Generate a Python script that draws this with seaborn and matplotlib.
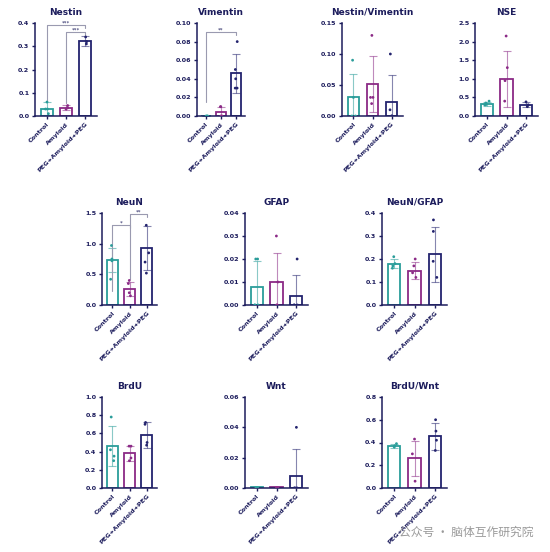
import numpy as np
import pandas as pd
import seaborn as sns
from matplotlib import pyplot as plt

groups = ["Control", "Amyloid", "PEG+Amyloid+PEG"]
colors = ["#2a9d9a", "#8b2a86", "#23236e"]
NAVY = "#1c1c5c"

# per-panel: means, sds, individual points
panels = {
    "Nestin": ([0.032, 0.036, 0.322], [0.028, 0.01, 0.02],
               [[0.06, 0.03, 0.01, 0.03], [0.045, 0.035, 0.03], [0.34, 0.32, 0.31]]),
    "Vimentin": ([0.0005, 0.004, 0.046], [0.0, 0.006, 0.021],
                 [[0.0, 0.0, 0.0], [0.01, 0.01, 0.0, 0.0], [0.08, 0.05, 0.04, 0.03, 0.03]]),
    "Nestin/Vimentin": ([0.03, 0.052, 0.022], [0.037, 0.045, 0.044],
                        [[0.09, 0.03, 0.0, 0.0], [0.13, 0.03, 0.03, 0.02], [0.10, 0.01, 0.0, 0.0]]),
    "NSE": ([0.32, 1.0, 0.3], [0.06, 0.76, 0.07],
            [[0.4, 0.3, 0.3, 0.35], [2.15, 1.3, 0.95, 0.4], [0.38, 0.3, 0.25]]),
    "NeuN": ([0.73, 0.26, 0.93], [0.2, 0.12, 0.36],
             [[0.97, 0.75, 0.72, 0.42], [0.4, 0.35, 0.2, 0.15], [1.3, 0.85, 0.7, 0.52]]),
    "GFAP": ([0.008, 0.01, 0.004], [0.011, 0.0125, 0.009],
             [[0.02, 0.02, 0.0, 0.0, 0.0], [0.03, 0.01, 0.0, 0.0], [0.02, 0.0, 0.0, 0.0]]),
    "NeuN/GFAP": ([0.18, 0.15, 0.22], [0.02, 0.035, 0.12],
                  [[0.21, 0.18, 0.17, 0.16], [0.2, 0.17, 0.14, 0.12], [0.37, 0.32, 0.19, 0.12]]),
    "BrdU": ([0.46, 0.38, 0.58], [0.22, 0.08, 0.14],
             [[0.78, 0.42, 0.35, 0.3], [0.46, 0.46, 0.33, 0.3], [0.72, 0.7, 0.5, 0.47]]),
    "Wnt": ([0.0005, 0.0005, 0.008], [0.0, 0.0, 0.018],
            [[0.0, 0.0, 0.0], [0.0, 0.0, 0.0], [0.04, 0.0, 0.0, 0.0, 0.0]]),
    "BrdU/Wnt": ([0.37, 0.26, 0.455], [0.02, 0.155, 0.12],
                 [[0.39, 0.37, 0.36], [0.43, 0.3, 0.06], [0.6, 0.5, 0.42, 0.33]]),
}
ylims = {"Nestin": (0.4, 0.1, "%.1f"), "Vimentin": (0.10, 0.02, "%.2f"),
         "Nestin/Vimentin": (0.15, 0.05, "%.2f"), "NSE": (2.5, 0.5, "%.1f"),
         "NeuN": (1.5, 0.5, "%.1f"), "GFAP": (0.04, 0.01, "%.2f"),
         "NeuN/GFAP": (0.4, 0.1, "%.1f"), "BrdU": (1.0, 0.2, "%.1f"),
         "Wnt": (0.06, 0.02, "%.2f"), "BrdU/Wnt": (0.8, 0.2, "%.1f")}
# significance brackets: (i, j, height, label)
brackets = {"Nestin": [(0, 2, 0.39, "***"), (1, 2, 0.36, "***")],
            "Vimentin": [(0, 2, 0.09, "**")],
            "NeuN": [(0, 1, 1.3, "*"), (1, 2, 1.48, "**")]}

# axes boxes in pixels: left, right, top, bottom
boxes = {"Nestin": (35, 97, 23, 116), "Vimentin": (197, 245, 23, 116),
         "Nestin/Vimentin": (342, 403, 23, 116), "NSE": (475, 538, 23, 116),
         "NeuN": (102, 157, 213, 305), "GFAP": (245, 308, 213, 305),
         "NeuN/GFAP": (382, 447, 213, 305), "BrdU": (102, 157, 397, 488),
         "Wnt": (245, 308, 397, 488), "BrdU/Wnt": (382, 447, 397, 488)}

sns.set_style("ticks")
plt.rcParams['font.family'] = ['DejaVu Sans']
W, H = 550, 552
fig = plt.figure(figsize=(W / 100, H / 100), dpi=100)

for name, (means, sds, pts) in panels.items():
    l, r, t, b = boxes[name]
    ax = fig.add_axes([l / W, 1 - b / H, (r - l) / W, (b - t) / H])
    df = pd.DataFrame({"group": groups, "value": means})
    sns.barplot(data=df, x="group", y="value", hue="group", palette=colors,
                fill=False, linewidth=1.3, width=0.62, errorbar=None,
                legend=False, ax=ax)
    for bar, c in zip(ax.patches, colors):
        bar.set_edgecolor(c)
    for i, (m, s, c) in enumerate(zip(means, sds, colors)):
        ax.errorbar(i, m, yerr=s, color=c, alpha=0.55, capsize=3,
                    elinewidth=0.8, capthick=0.8)
    pdf = pd.DataFrame({"group": [g for g, p in zip(groups, pts) for _ in p],
                        "value": [v for p in pts for v in p]})
    sns.stripplot(data=pdf, x="group", y="value", hue="group", palette=colors,
                  size=2, jitter=0.12, legend=False, ax=ax)
    top, step, fmt = ylims[name]
    ax.set_ylim(0, top)
    ax.set_yticks(np.arange(0, top + step / 2, step))
    ax.yaxis.set_major_formatter(plt.FormatStrFormatter(fmt))
    ax.set_xlim(-0.6, 2.6)
    for i, j, h, lab in brackets.get(name, []):
        ax.plot([i, i, j, j], [0.15 * top if i == 0 else means[i] + sds[i] + 0.03 * top,
                               h, h, h - 0.03 * top],
                color="#9a9ab0", lw=0.8, clip_on=False)
        ax.text((i + j) / 2, h, lab, ha="center", va="bottom", fontsize=4,
                color=NAVY)
    ax.set_title(name, fontsize=6.5, fontweight="bold", color=NAVY, pad=6)
    ax.set_xlabel("")
    ax.set_ylabel("")
    ax.set_xticks(range(3))
    ax.set_xticklabels(groups, rotation=45, ha="right", rotation_mode="anchor",
                       fontsize=4.6, fontweight="bold", color=NAVY)
    ax.tick_params(axis="y", labelsize=4.6, colors=NAVY, length=2.5, width=1, pad=1.5)
    ax.tick_params(axis="x", colors=NAVY, length=2.5, width=1, pad=1.5)
    for lbl in ax.get_yticklabels():
        lbl.set_fontweight("bold")
    sns.despine(ax=ax)
    for sp in ("left", "bottom"):
        ax.spines[sp].set_color(NAVY)
        ax.spines[sp].set_linewidth(1.1)

fig.text(0.97, 0.036, "公众号 · 脑体互作研究院", ha="right", va="center",
         fontsize=8.5, color="#9a9a9a", family=["Noto Sans CJK SC", "DejaVu Sans"])
fig.savefig("out.png", dpi=100)
